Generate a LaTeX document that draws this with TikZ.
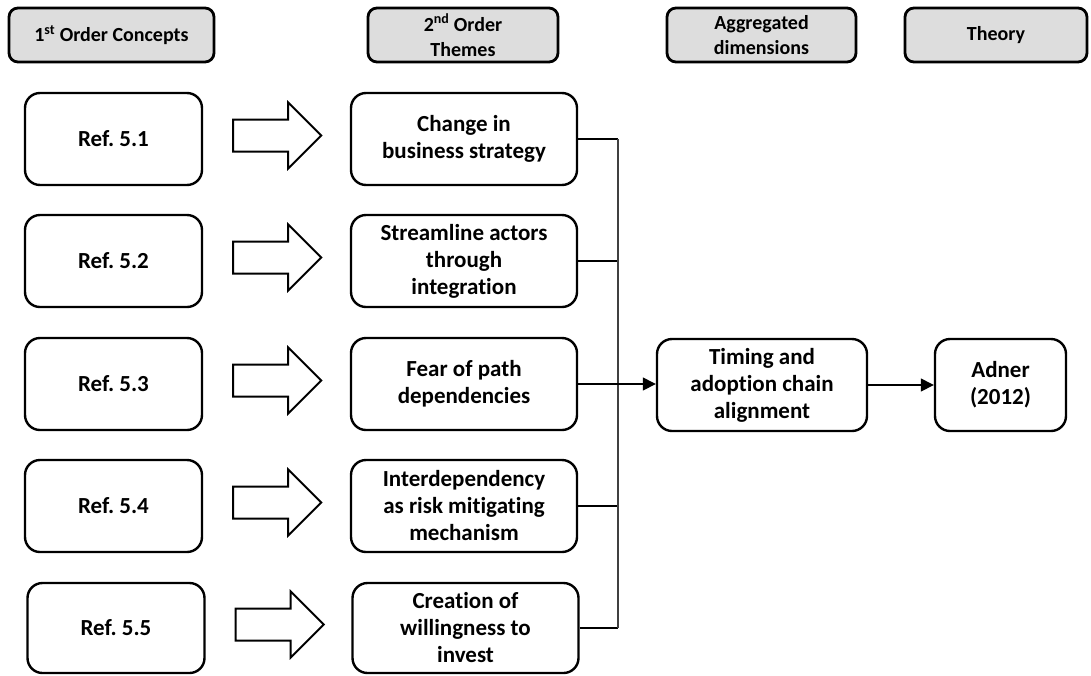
\documentclass[tikz,border=0pt]{standalone}
\usepackage{fontspec}
\setmainfont{Carlito}[RawFeature={-liga;-clig;-calt;-rlig;-dlig}]
\usetikzlibrary{arrows.meta,calc}
\definecolor{hdrfill}{RGB}{221,221,221}
% keeps t and i as separate glyphs
\newcommand\tisep{t\kern0pt i}
\begin{document}
\frenchspacing
\begin{tikzpicture}[x=1pt,y=-1pt,
  hdr/.style={draw=black,line width=2.8pt,fill=hdrfill,rounded corners=9pt,
    minimum height=54pt,align=center,inner sep=0pt,
    font=\fontsize{20}{25}\selectfont\bfseries},
  refbox/.style={draw=black,line width=2.4pt,rounded corners=15pt,
    minimum width=177pt,minimum height=92pt,align=center,inner sep=0pt,
    font=\fontsize{23}{27}\selectfont\bfseries},
  thmbox/.style={refbox,minimum width=226pt},
  barrow/.style={draw=black,line width=2pt,line join=miter,fill=white},
  link/.style={draw=black,line width=1.2pt},
  bus/.style={draw=black!75,line width=1.1pt},
  flow/.style={draw=black,line width=1.4pt,-{Triangle[length=13pt,width=13pt]}}
]
\useasboundingbox (0,0) rectangle (1091,675);

% column headers
\node[hdr,minimum width=205pt] (h1) at (111.5,35) {1\textsuperscript{st} Order Concepts};
\node[hdr,minimum width=190pt] (h2) at (463,35) {2\textsuperscript{nd} Order\\Themes};
\node[hdr,minimum width=189pt] (h3) at (761.5,35) {Aggregated\\dimensions};
\node[hdr,minimum width=182pt] (h4) at (996,35) {Theory};

% first order concepts
\node[refbox] (ref1) at (113.5,139) {Ref. 5.1};
\node[refbox] (ref2) at (113.5,261) {Ref. 5.2};
\node[refbox] (ref3) at (113.5,384) {Ref. 5.3};
\node[refbox] (ref4) at (113.5,506) {Ref. 5.4};
\node[refbox,minimum height=90pt] (ref5) at (116,628) {Ref. 5.5};

% second order themes
\node[thmbox] (thm1) at (464,139) {Change in\\business strategy};
\node[thmbox] (thm2) at (464,261) {Streamline actors\\through\\integra\tisep on};
\node[thmbox] (thm3) at (464,384) {Fear of path\\dependencies};
\node[thmbox] (thm4) at (464,506) {Interdependency\\as risk mi\tisep gating\\mechanism};
\node[thmbox,minimum height=90pt] (thm5) at (465.5,628) {Creation of\\willingness to\\invest};

% aggregated dimension and theory
\node[refbox,minimum width=210pt] (agg) at (762,385) {Timing and\\adop\tisep on chain\\alignment};
\node[refbox,minimum width=131pt] (thy) at (1000.5,385) {Adner\\(2012)};

% block arrows from concepts to themes
\foreach \i in {1,...,5}{
  \coordinate (ba\i) at ($(ref\i.east)+(30,-3.5)$);
  \draw[barrow] ($(ba\i)+(0,-16)$) -- ++(55,0) -- ++(0,-17)
    -- ($(ba\i)+(88,0)$) -- ($(ba\i)+(55,33)$) -- ++(0,-17)
    -- ($(ba\i)+(0,16)$) -- cycle;
}

% themes gathered on a common bus
\coordinate (busx) at (618,0);
\foreach \i in {1,2,4,5}{
  \draw[link] (thm\i.east) -- (thm\i.east -| busx);
}
\draw[bus] (thm1.east -| busx) -- (thm5.east -| busx);
\draw[flow] (thm3.east) -- (thm3.east -| agg.west);
\draw[flow] (agg.east) -- (thy.west);
\end{tikzpicture}
\end{document}
